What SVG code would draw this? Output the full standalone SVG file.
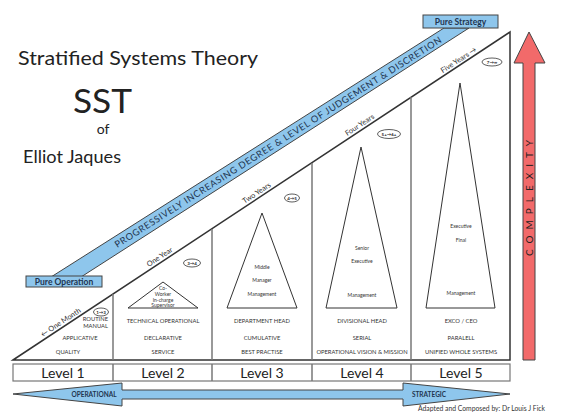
<svg xmlns="http://www.w3.org/2000/svg" width="563" height="419" viewBox="0 0 563 419">
<style>
text{font-family:Lato,"Open Sans","Liberation Sans",sans-serif;fill:#222}
.t{font-size:20px}
.c{font-size:5.8px;text-anchor:middle;fill:#333}
.in{font-size:5px;text-anchor:middle;fill:#333}
.yr{font-size:7.3px;text-anchor:middle;fill:#333}
.lv{font-size:14px;text-anchor:middle}
.ov{font-size:4.5px;text-anchor:middle;font-weight:bold}
.box{fill:#8ec6ec;stroke:#444;stroke-width:1}
.bt{font-size:8.5px;font-weight:bold;text-anchor:middle;fill:#1f3550}
.div{stroke:#777;stroke-width:1.5;fill:none}
.tri{fill:none;stroke:#333;stroke-width:1}
.oval{fill:#fff;stroke:#333;stroke-width:0.8}
</style>
<rect width="563" height="419" fill="#fff"/>
<g id="title">
<text class="t" x="18" y="65" textLength="240" lengthAdjust="spacingAndGlyphs">Stratified Systems Theory</text>
<text x="73" y="113" font-size="33" textLength="59" lengthAdjust="spacingAndGlyphs">SST</text>
<text x="103" y="134" font-size="14" text-anchor="middle">of</text>
<text x="23" y="163" font-size="18" textLength="98" lengthAdjust="spacingAndGlyphs">Elliot Jaques</text>
</g>
<g id="band">
<polygon points="51,277 444,28 469,28 81,277" fill="#8ec6ec" stroke="#444" stroke-width="1"/>
<text transform="translate(278,142) rotate(-32.4)" y="3.4" font-size="9.3" text-anchor="middle" textLength="385" lengthAdjust="spacing" style="fill:#1f3550">PROGRESSIVELY INCREASING DEGREE &amp; LEVEL OF JUDGEMENT &amp; DISCRETION</text>
</g>
<g id="pure-operation">
<rect class="box" x="26" y="276" width="76" height="11"/>
<text class="bt" x="64" y="284.5">Pure Operation</text>
</g>
<g id="pure-strategy">
<rect class="box" x="423" y="15" width="75" height="13"/>
<text class="bt" x="460.5" y="24.5">Pure Strategy</text>
</g>
<g id="pyramid">
<polygon points="13,360 510,32 510,360" fill="#fff" stroke="#333" stroke-width="1.5"/>
<line class="div" x1="113" y1="294" x2="113" y2="360"/>
<line class="div" x1="212" y1="229" x2="212" y2="360"/>
<line class="div" x1="312" y1="163" x2="312" y2="360"/>
<line class="div" x1="411" y1="97" x2="411" y2="360"/>
</g>
<g id="time-labels">
<text class="yr" transform="translate(62,324.5) rotate(-33.4)">← One Month</text>
<text class="yr" transform="translate(161,259) rotate(-33.4)">One Year</text>
<text class="yr" transform="translate(258,195) rotate(-33.4)">Two Years</text>
<text class="yr" transform="translate(361,127) rotate(-33.4)">Four Years</text>
<text class="yr" transform="translate(460,62) rotate(-33.4)">Five Years →</text>
</g>
<g id="ovals">
<ellipse class="oval" cx="101" cy="312" rx="7.5" ry="4"/><text class="ov" x="101" y="313.6">1→3</text>
<ellipse class="oval" cx="192" cy="263" rx="8.5" ry="4"/><text class="ov" x="192" y="264.6">3→4</text>
<ellipse class="oval" cx="292" cy="198" rx="7.5" ry="4"/><text class="ov" x="292" y="199.6">4→5</text>
<ellipse class="oval" cx="389" cy="134" rx="11.5" ry="4.5"/><text class="ov" x="389" y="135.6">5+→6+</text>
<ellipse class="oval" cx="492" cy="62" rx="10" ry="4"/><text class="ov" x="492" y="63.6">7→∞</text>
</g>
<g id="level1">
<text class="c" x="108" y="321" style="text-anchor:end">ROUTINE</text>
<text class="c" x="108" y="328" style="text-anchor:end">MANUAL</text>
<text class="c" x="80" y="340">APPLICATIVE</text>
<text class="c" x="68" y="354">QUALITY</text>
</g>
<g id="level2">
<polygon class="tri" points="163,282 128,308 198,308"/>
<text class="in" x="163" y="290">Co-</text>
<text class="in" x="163" y="296">Worker</text>
<text class="in" x="163" y="302">In-charge</text>
<text class="in" x="163" y="307">Supervisor</text>
<text class="c" x="163" y="323">TECHNICAL OPERATIONAL</text>
<text class="c" x="163" y="340">DECLARATIVE</text>
<text class="c" x="163" y="354">SERVICE</text>
</g>
<g id="level3">
<polygon class="tri" points="262,213 227,308 297,308"/>
<text class="in" x="262" y="269">Middle</text>
<text class="in" x="262" y="282">Manager</text>
<text class="in" x="262" y="296">Management</text>
<text class="c" x="262" y="323">DEPARTMENT HEAD</text>
<text class="c" x="262" y="340">CUMULATIVE</text>
<text class="c" x="262" y="354">BEST PRACTISE</text>
</g>
<g id="level4">
<polygon class="tri" points="361,147 326,308 397,308"/>
<text class="in" x="362" y="250">Senior</text>
<text class="in" x="362" y="263">Executive</text>
<text class="in" x="362" y="297">Management</text>
<text class="c" x="362" y="323">DIVISIONAL HEAD</text>
<text class="c" x="362" y="340">SERIAL</text>
<text class="c" x="362" y="354">OPERATIONAL VISION &amp; MISSION</text>
</g>
<g id="level5">
<polygon class="tri" points="460,83 426,308 495,308"/>
<text class="in" x="461" y="228">Executive</text>
<text class="in" x="461" y="242">Final</text>
<text class="in" x="461" y="295">Management</text>
<text class="c" x="461" y="323">EXCO / CEO</text>
<text class="c" x="461" y="340">PARALELL</text>
<text class="c" x="461" y="354">UNIFIED WHOLE SYSTEMS</text>
</g>
<g id="levels">
<rect x="13" y="364" width="497" height="17" fill="#fff" stroke="#777" stroke-width="1.2"/>
<line class="div" x1="113" y1="364" x2="113" y2="381" stroke-width="1.2"/>
<line class="div" x1="212" y1="364" x2="212" y2="381" stroke-width="1.2"/>
<line class="div" x1="312" y1="364" x2="312" y2="381" stroke-width="1.2"/>
<line class="div" x1="411" y1="364" x2="411" y2="381" stroke-width="1.2"/>
<text class="lv" x="63" y="377.5">Level 1</text>
<text class="lv" x="163" y="377.5">Level 2</text>
<text class="lv" x="262" y="377.5">Level 3</text>
<text class="lv" x="362" y="377.5">Level 4</text>
<text class="lv" x="461" y="377.5">Level 5</text>
</g>
<g id="complexity">
<polygon points="529,32 545,63 535,63 535,360 523,360 523,63 514,63" fill="#f26a6a" stroke="#444" stroke-width="1"/>
<text transform="translate(532.5,195) rotate(-90)" font-size="10" text-anchor="middle" letter-spacing="6" style="fill:#222">COMPLEXITY</text>
</g>
<g id="op-strat">
<polygon points="13,394 122,383 122,390 403,390 403,383 510,394 403,406 403,399 122,399 122,406" fill="#8ec6ec" stroke="#444" stroke-width="1"/>
<text x="94" y="397" font-size="6.5" font-weight="bold" text-anchor="middle" style="fill:#1f3550">OPERATIONAL</text>
<text x="429" y="397" font-size="6.5" font-weight="bold" text-anchor="middle" style="fill:#1f3550">STRATEGIC</text>
<text x="418" y="411" font-size="7" textLength="127" lengthAdjust="spacingAndGlyphs" style="fill:#333">Adapted and Composed by: Dr Louis J Fick</text>
</g>
</svg>
